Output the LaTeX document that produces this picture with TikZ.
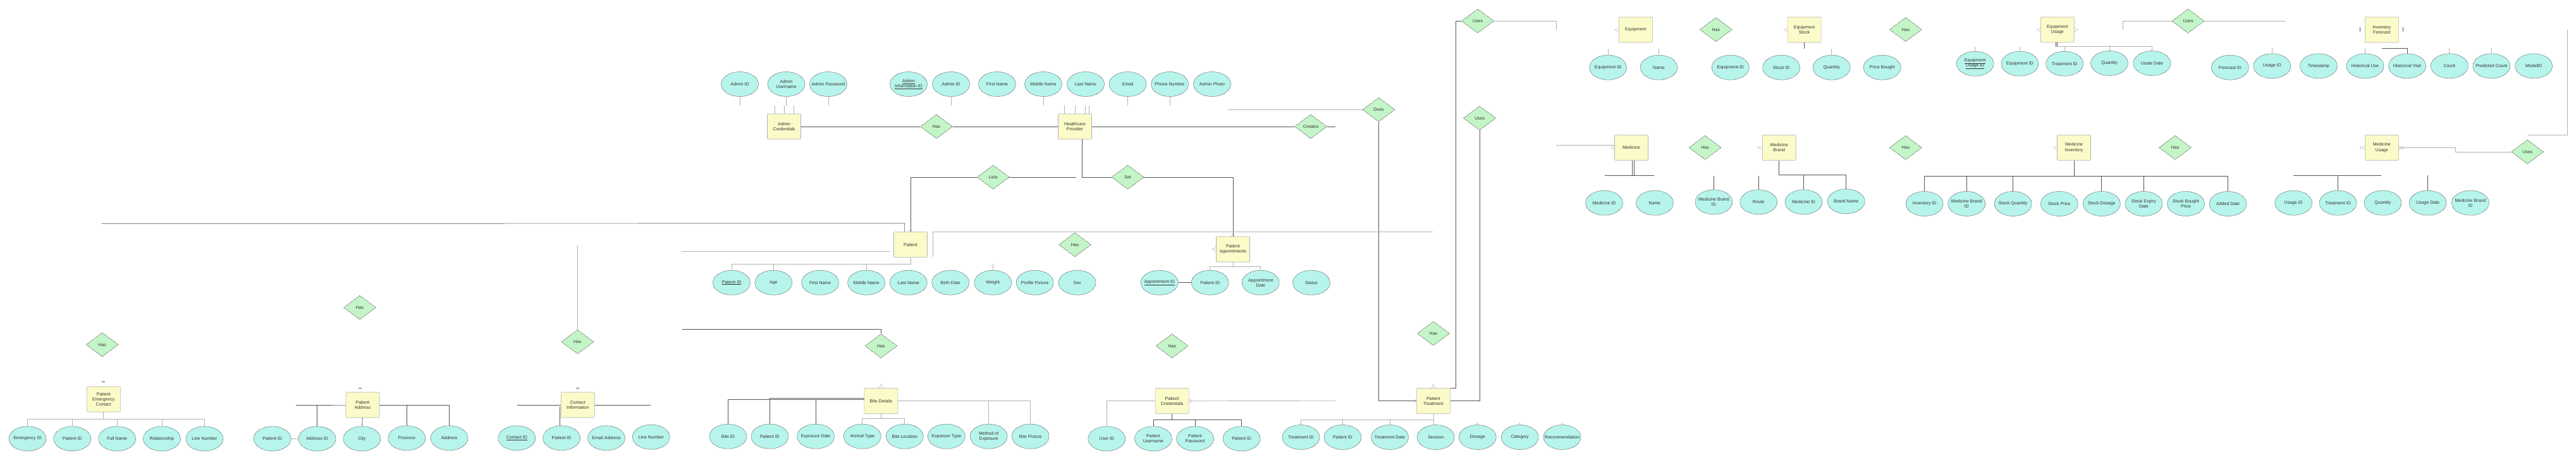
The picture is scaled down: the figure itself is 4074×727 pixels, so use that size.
\documentclass[tikz,border=0pt]{standalone}
\usepackage{fontspec}
\setmainfont{Liberation Sans}
\usetikzlibrary{positioning,shapes.geometric}
\definecolor{entfill}{HTML}{FBFBC9}
\definecolor{attrfill}{HTML}{B7F4EC}
\definecolor{relfill}{HTML}{C4F5C8}
\definecolor{inkgray}{HTML}{333333}

\begin{document}
\begin{tikzpicture}[x=1pt, y=-1pt,
  every node/.style = {font=\fontsize{7}{8.3}\selectfont, text=inkgray, align=center},
  ent/.style  = {rectangle, draw=gray!60, fill=entfill, line width=0.6pt, rounded corners=1pt,
    inner sep=0pt, minimum width=53, minimum height=40},
  attr/.style = {ellipse, draw=gray!40!black, fill=attrfill, line width=0.5pt, dash pattern=on 1.2pt off 0.9pt,
    inner xsep=-7pt, inner ysep=0pt, minimum width=59, minimum height=39},
  rel/.style  = {diamond, draw=gray!40!black, fill=relfill, line width=0.5pt, dash pattern=on 1.2pt off 0.9pt,
    inner sep=0pt, minimum width=51, minimum height=38},
  link/.style  = {draw=gray!65!black, line width=0.7pt},
  faint/.style = {draw=gray!60, line width=0.7pt},
  foot/.style  = {draw=gray!55, line width=0.5pt}]
  \fill[white] (0,0) rectangle (4074,727);

  % admin and healthcare provider
  \node[attr] (AdmID)    at (1170,133)     {Admin ID};
  \node[attr] (AdmUser)  at (1243.5,133)   {Admin\\Username};
  \node[attr] (AdmPass)  at (1310,133)     {Admin Password};
  \node[ent]  (AC)       at (1240,200)     {Admin\\Credentials};
  \node[rel]  (HasAC)    at (1481,200)     {Has};
  \node[attr] (InfoID)   at (1437,133)     {\underline{Admin}\\\underline{Information ID}};
  \node[attr] (InfoAdm)  at (1504,133)     {Admin ID};
  \node[attr] (InfoFN)   at (1577,133)     {First Name};
  \node[attr] (InfoMN)   at (1650,133)     {Middle Name};
  \node[attr] (InfoLN)   at (1717,133)     {Last Name};
  \node[attr] (InfoMail) at (1783.6,133)   {Email};
  \node[attr] (InfoTel)  at (1850,133)     {Phone Number};
  \node[attr] (InfoPic)  at (1917,133)     {Admin Photo};
  \node[ent]  (HP)       at (1700,200)     {Healthcare\\Provider};
  \node[rel]  (Creates)  at (2073,200)     {Creates};
  \node[rel]  (Does)     at (2180.5,173.3) {Does};
  \node[rel]  (Lists)    at (1570.7,280)   {Lists};
  \node[rel]  (Set)      at (1783.6,280)   {Set};

  % patient
  \node[ent]  (Pat)      at (1440,386.7)   {Patient};
  \node[attr] (PatID)    at (1157,446.7)   {\underline{Patient ID}};
  \node[attr] (PatAge)   at (1223.3,446.7) {Age};
  \node[attr] (PatFN)    at (1297.1,446.7) {First Name};
  \node[attr] (PatMN)    at (1370.1,446.7) {Middle Name};
  \node[attr] (PatLN)    at (1436.8,446.7) {Last Name};
  \node[attr] (PatBirth) at (1503.2,446.7) {Birth Date};
  \node[attr] (PatWt)    at (1570.3,446.7) {Weight};
  \node[attr] (PatPic)   at (1636.7,446.7) {Profile Picture};
  \node[attr] (PatSex)   at (1703.6,446.7) {Sex};
  \node[rel]  (HasSex)   at (1700,386.7)   {Has};
  \node[ent]  (PA)       at (1950,394)     {Patient\\Appointments};
  \node[attr] (PAAppID)  at (1833.7,446.7) {\underline{Appointment ID}};
  \node[attr] (PAPat)    at (1913.7,446.7) {Patient ID};
  \node[attr] (PADate)   at (1993.7,446.7) {Appointment\\Date};
  \node[attr] (PAStat)   at (2074,446.7)   {Status};

  % bottom row
  \node[rel]  (HasPEC)   at (161.7,544.7)  {Has};
  \node[ent]  (PEC)      at (163.8,631)    {Patient\\Emergency\\Contact};
  \node[attr] (PECEm)    at (43.5,693.3)   {Emergency ID};
  \node[attr] (PECPat)   at (114.3,693.3)  {Patient ID};
  \node[attr] (PECName)  at (185.2,693.3)  {Full Name};
  \node[attr] (PECRel)   at (256,693.3)    {Relationship};
  \node[attr] (PECLine)  at (323.4,693.3)  {Line Number};

  \node[rel]  (HasPAd)   at (569,486)      {Has};
  \node[ent]  (PAd)      at (573.5,640)    {Patient\\Address};
  \node[attr] (PAdPat)   at (430.7,693.3)  {Patient ID};
  \node[attr] (PAdAddrID) at (501.6,693.3) {Address ID};
  \node[attr] (PAdCity)  at (572.4,693.3)  {City};
  \node[attr] (PAdProv)  at (643.3,692.3)  {Province};
  \node[attr] (PAdAddr)  at (710.6,692.3)  {Address};

  \node[rel]  (HasCI)    at (913.4,540.3)  {Has};
  \node[ent]  (CI)       at (913.7,640)    {Contact\\Information};
  \node[attr] (CIID)     at (817.3,692.3)  {\underline{Contact ID}};
  \node[attr] (CIPat)    at (888.1,692.3)  {Patient ID};
  \node[attr] (CIMail)   at (959,692.3)    {Email Address};
  \node[attr] (CILine)   at (1029.8,690.7) {Line Number};

  \node[rel]  (HasBD)    at (1393.4,546.7) {Has};
  \node[ent]  (BD)       at (1393.4,633.7) {Bite Details};
  \node[attr] (BDBite)   at (1151.4,689.7) {Bite ID};
  \node[attr] (BDPat)    at (1217.4,689.7) {Patient ID};
  \node[attr] (BDDate)   at (1290.1,689.7) {Exposure Date};
  \node[attr] (BDAnimal) at (1363.8,689.7) {Animal Type};
  \node[attr] (BDLoc)    at (1430.8,689.7) {Bite Location};
  \node[attr] (BDType)   at (1496.8,689.7) {Exposure Type};
  \node[attr] (BDMeth)   at (1563.7,689.7) {Method of\\Exposure};
  \node[attr] (BDPic)    at (1629.7,689.7) {Bite Picture};

  \node[rel]  (HasPC)    at (1853.6,546.7) {Has};
  \node[ent]  (PC)       at (1853.6,633.7) {Patient\\Credentials};
  \node[attr] (PCUser)   at (1750.3,693.3) {User ID};
  \node[attr] (PCUname)  at (1823.9,693.3) {Patient\\Username};
  \node[attr] (PCPass)   at (1890,693.3)   {Patient\\Password};
  \node[attr] (PCPat)    at (1963.6,693.3) {Patient ID};

  \node[rel]  (HasPT)    at (2266.9,527)   {Has};
  \node[ent]  (PT)       at (2266.9,633.7) {Patient\\Treatment};
  \node[attr] (PTID)     at (2057.4,691)   {Treatment ID};
  \node[attr] (PTPat)    at (2123.4,691)   {Patient ID};
  \node[attr] (PTDate)   at (2198,691)     {Treatment Date};
  \node[attr] (PTSess)   at (2270.7,691)   {Session};
  \node[attr] (PTDose)   at (2336.7,691)   {Dosage};
  \node[attr] (PTCat)    at (2403.7,691)   {Category};
  \node[attr] (PTRec)    at (2470.6,691)   {Recommendation};

  % equipment
  \node[rel]  (Uses1)    at (2337,33.3)    {Uses};
  \node[rel]  (Uses2)    at (2340,186.7)   {Uses};
  \node[ent]  (Eq)       at (2586.8,47)    {Equipment};
  \node[attr] (EqID)     at (2543.1,106.7) {Equipment ID};
  \node[attr] (EqName)   at (2623.5,106.7) {Name};
  \node[rel]  (HasEq)    at (2713.8,46.7)  {Has};
  \node[ent]  (ES)       at (2853.6,47)    {Equipment\\Stock};
  \node[attr] (ESEq)     at (2736.8,106.7) {Equipment ID};
  \node[attr] (ESID)     at (2817.2,106.7) {Stock ID};
  \node[attr] (ESQty)    at (2896.7,106.7) {Quantity};
  \node[attr] (ESPrice)  at (2976.7,106.7) {Price Bought};
  \node[rel]  (HasES)    at (3013.8,46.7)  {Has};
  \node[ent]  (EU)       at (3253.7,47)    {Equipment\\Usage};
  \node[attr] (EUUsage)  at (3123.6,100.7) {\underline{Equipment}\\\underline{Usage ID}};
  \node[attr] (EUEquip)  at (3194.4,100.7) {Equipment ID};
  \node[attr] (EUTreat)  at (3265.2,100.7) {Treatment ID};
  \node[attr] (EUQty)    at (3336,100)     {Quantity};
  \node[attr] (EUDate)   at (3403.4,100)   {Usale Date};
  \node[rel]  (Uses3)    at (3460.5,33.3)  {Uses};
  \node[ent]  (IF)       at (3766.8,47)    {Inventory\\Forecast};
  \node[attr] (IFID)     at (3526.8,106.7) {Forecast ID};
  \node[attr] (IFUsage)  at (3593.3,104.3) {Usage ID};
  \node[attr] (IFTime)   at (3666.9,104.3) {Timestamp};
  \node[attr] (IFHist)   at (3740.5,104.3) {Historical Use};
  \node[attr] (IFVisit)  at (3807,104.3)   {Historical Visit};
  \node[attr] (IFCount)  at (3873.8,104.3) {Count};
  \node[attr] (IFPred)   at (3940.3,104.3) {Predicted Count};
  \node[attr] (IFModel)  at (4007.1,104.3) {ModelID};

  % medicine
  \node[ent]  (Med)      at (2580,233.3)   {Medicine};
  \node[attr] (MedID)    at (2537,320.7)   {Medicine ID};
  \node[attr] (MedName)  at (2617,320.7)   {Name};
  \node[rel]  (HasMed)   at (2696.6,233.3) {Has};
  \node[ent]  (MB)       at (2813.7,233.3) {Medicine\\Brand};
  \node[attr] (MBID)     at (2710.4,319.3) {Medicine Brand\\ID};
  \node[attr] (MBRoute)  at (2781.2,319.3) {Route};
  \node[attr] (MBMed)    at (2852.5,319.3) {Medicine ID};
  \node[attr] (MBBrand)  at (2919.7,318.3) {Brand Name};
  \node[rel]  (HasMB)    at (3013.8,233.3) {Has};
  \node[ent]  (MI)       at (3280,233.3)   {Medicine\\Inventory};
  \node[attr] (MIID)     at (3043.6,322)   {Inventory ID};
  \node[attr] (MIBrand)  at (3110.2,322)   {Medicine Brand\\ID};
  \node[attr] (MIQty)    at (3183.7,322)   {Stock Quantity};
  \node[attr] (MIPrice)  at (3256.8,322)   {Stock Price};
  \node[attr] (MIDose)   at (3323.8,322)   {Stock Dosage};
  \node[attr] (MIExp)    at (3390.4,322)   {Stock Expiry\\Date};
  \node[attr] (MIBought) at (3457,322)     {Stock Bought\\Price};
  \node[attr] (MIAdded)  at (3523.6,322)   {Added Date};
  \node[rel]  (HasMI)    at (3440,233.3)   {Has};
  \node[ent]  (MU)       at (3766.8,233.3) {Medicine\\Usage};
  \node[attr] (MUUsage)  at (3627.1,320.7) {Usage ID};
  \node[attr] (MUTreat)  at (3697.5,320.7) {Treatment ID};
  \node[attr] (MUQty)    at (3768.4,320.7) {Quantity};
  \node[attr] (MUDate)   at (3839.6,320.7) {Usage Date};
  \node[attr] (MUBrand)  at (3906.9,320.7) {Medicine Brand\\ID};
  \node[rel]  (Uses4)    at (3997.2,240)   {Uses};

  \coordinate (DoesEnd)  at (1941.6,173.3);
  \coordinate (PatFar)   at (161,353.3);
  \coordinate (PatLeftA) at (1406.5,397.3);
  \coordinate (PatLeftB) at (1077.8,397.3);
  \coordinate (PatRight) at (2266,366.7);
  \coordinate (CITop)    at (913.4,388);
  \coordinate (BDFar)    at (1078.7,520);
  \coordinate (PCEnd)    at (2111.9,633.3);
  \coordinate (MedFar)   at (2461,229.3);
  \coordinate (IFRight)  at (4060,47.3);
  \coordinate (UsesTop)  at (3998.4,213.3);

  \draw[faint] (AdmID.south) -- ++(0,14) (AdmUser.south) -- ++(0,14) (AdmPass.south) -- ++(0,14)
    (InfoAdm.south) -- ++(0,14) (InfoMN.south) -- ++(0,14) (InfoMail.south) -- ++(0,14) (InfoTel.south) -- ++(0,14);
  \draw[faint] (AC.north) ++(-14.5,0) -- ++(0,-13) (AC.north) ++(0.8,0) -- ++(0,-13) (AC.north) ++(15.8,0) -- ++(0,-13)
    (HP.north) ++(-16.6,0) -- ++(0,-13) (HP.north) -- ++(0,-13) (HP.north) ++(16.6,0) -- ++(0,-13) (HP.north) ++(22.7,0) -- ++(0,-13);
  \draw[link] (AC) -- (HasAC) -- (HP) -- (Creates);
  \draw[link] (Creates.east) -- ++(13.5,0);
  \draw[faint] (DoesEnd) -- (Does.west);
  \draw[link] (Does.south) |- (PT.west);
  \draw[link] ([xshift=11pt]HP.south) |- (Set.west);
  \draw[link] (Lists.east) -- ++(105.5,0);
  \draw[link] (Lists.west) -| (Pat.north);
  \draw[link] (Set.east) -| (PA.north);
  \draw[link] (Pat.north) ++(-9.4,0) -- ++(0,-13.4) -- (PatFar);
  \draw[faint] (PatLeftA) -- (PatLeftB);
  \draw[faint] (Pat.east) ++(8.3,19) -- ++(0,-39) -- (PatRight);
  \draw[faint] (Pat.south) -- ++(0,10.6) -| (PatID.north);
  \draw[faint] (PatAge.north) -- ++(0,-10) (PatMN.north) -- ++(0,-10) (PatWt.north) -- ++(0,-10);
  \draw[faint] (PA.south) -- ++(0,7) -| (PAPat.north) (PA.south) ++(0,7) -| (PADate.north);
  \draw[link] (PAAppID) -- (PAPat);

  \draw[link] (PEC.north) ++(-3,-7) -- ++(5,0) (PAd.north) ++(-7,-6.7) -- ++(5,0) (CI.north) ++(-3,-6.7) -- ++(5,0);
  \draw[faint] (PEC.south) -- ++(0,11) -| (PECEm.north) (PEC.south) ++(0,11) -| (PECLine.north);
  \draw[faint] (PECPat.north) -- ++(0,-11.5) (PECName.north) -- ++(0,-11.5) (PECRel.north) -- ++(0,-11.5);
  \draw[link] (PAdAddrID.north) |- (PAd.west) -- ++(-79,0);
  \draw[link] (PAdProv.north) |- (PAd.east) (PAdAddr.north) |- (PAd.east);
  \draw[link] (PAd.south) -- (PAdCity.north);
  \draw[faint] (PAdPat) -- (PAdAddrID);
  \draw[faint] (CITop) -- (HasCI.north);
  \draw[link] (CI.west) -- ++(-69.4,0) (CI.east) -- ++(88.4,0);
  \draw[link] (CIPat.north) ++(-2.8,0) -- ++(0,-30);

  \draw[link] (BDFar) -| (HasBD.north);
  \draw[link] (BDBite.north) |- ([yshift=2pt]BD.west);
  \draw[link] (BDPat.north) |- ([yshift=4.4pt]BD.west);
  \draw[link] (BDDate.north) -- ++(0,-38.5);
  \draw[faint] (BD.east) -| (BDPic.north) (BDMeth.north) -- ++(0,-36.9);
  \draw[faint] (BD.south) -- ++(0,7.3) -| (BDAnimal.north) (BD.south) ++(0,7.3) -| (BDLoc.north);
  \draw[faint] (PC.east) -- (PCEnd);
  \draw[faint] (PC.west) -| (PCUser.north);
  \draw[link] (PC.south) -- ++(0,9) -| (PCUname.north) (PC.south) ++(0,9) -| (PCPat.north);
  \draw[link] (PCPass.north) -- ++(0,-11);
  \draw[link] (Uses1.west) -- ++(-9.1,0) |- (PT.north east);
  \draw[link] (Uses2.south) |- (PT.east);
  \draw[faint] (PT.south) -- (PT.south |- PTSess.north);
  \draw[faint] (PT.south) ++(0,9) -| (PTID.north);
  \draw[faint] (PTPat.north) -- ++(0,-9) (PTDate.north) -- ++(0,-9)
    (PTDose.north) -- ++(0,-3) (PTCat.north) -- ++(0,-3) (PTRec.north) -- ++(0,-3);

  \draw[faint] (Uses1.east) -- ++(98.5,0) -- ++(0,13.4);
  \draw[faint] (MedFar) -- (MedFar -| Med.west);
  \draw[faint] (EqID.north) -- ++(0,-10) (EqName.north) -- ++(0,-10) (ESQty.north) -- ++(0,-10);
  \draw[link] (ES.south) -- ++(0,9.3);
  \draw[link] (EU.south) ++(-2.5,0) -- ++(0,7) (EU.south) ++(-0.5,0) -- ++(0,7);
  \draw[faint] (EU.south) ++(-1,6.3) -| (EUDate.north);
  \draw[faint] (EUTreat.north) -- ++(0,-8) (EUQty.north) -- ++(0,-8) (EUUsage.north) -- ++(0,-7) (EUEquip.north) -- ++(0,-7);
  \draw[faint] (Uses3.west) -- ++(-77.5,0) -- ++(0,13.4);
  \draw[faint] (Uses3.east) -- ++(126.4,0) -- ++(0,1.7);
  \draw[link] (IF.west) ++(-7.2,-3.5) -- ++(0,7) (IF.east) ++(7.2,-3.5) -- ++(0,7);
  \draw[link] (IF.south) ++(0,9.3) -| (IFVisit.north);
  \draw[faint] (IFUsage.north) -- ++(0,-8.5) (IFHist.north) -- ++(0,-8.5) (IFCount.north) -- ++(0,-8.5) (IFPred.north) -- ++(0,-8.5);
  \draw[faint] (IFRight) |- (UsesTop);
  \draw[faint] (MU.east) -- ++(89.3,0) |- (Uses4.west);

  \draw[link] (Med.south) ++(1,0) -- ++(0,24) (Med.south) ++(4,0) -- ++(0,24);
  \draw[link] (Med.south) ++(-42.2,24) -- ++(78.4,0);
  \draw[link] (MB.south) -- ++(0,22.7) -| (MBBrand.north);
  \draw[link] (MBMed.north) -- ++(0,-23) (MBID.north) -- ++(0,-22) (MBRoute.north) -- ++(0,-22);
  \draw[link] (MI.south) -- ++(0,25) -| (MIID.north) (MI.south) ++(0,25) -| (MIAdded.north);
  \draw[link] (MIBrand.north) -- ++(0,-24) (MIQty.north) -- ++(0,-24) (MIDose.north) -- ++(0,-24) (MIExp.north) -- ++(0,-24);
  \draw[link] (MUUsage.north) ++(0,-24) -- ++(139,0) (MUTreat.north) -- ++(0,-24) (MUDate.north) -- ++(0,-23.5);

  \draw[foot] ([yshift=3pt]Eq.west) -- ([xshift=-6pt]Eq.west) -- ([yshift=-3pt]Eq.west);
  \draw[foot] ([yshift=3pt]ES.west) -- ([xshift=-6pt]ES.west) -- ([yshift=-3pt]ES.west);
  \draw[foot] ([yshift=3pt]EU.west) -- ([xshift=-6pt]EU.west) -- ([yshift=-3pt]EU.west);
  \draw[foot] ([yshift=3pt]EU.east) -- ([xshift=6pt]EU.east) -- ([yshift=-3pt]EU.east);
  \draw[foot] ([yshift=3pt]Med.west) -- ([xshift=-6pt]Med.west) -- ([yshift=-3pt]Med.west);
  \draw[foot] ([yshift=3pt]MB.west) -- ([xshift=-6pt]MB.west) -- ([yshift=-3pt]MB.west)
    ([xshift=-7pt,yshift=3.5pt]MB.west) -- ([xshift=-7pt,yshift=-3.5pt]MB.west);
  \draw[foot] ([yshift=3pt]MI.west) -- ([xshift=-6pt]MI.west) -- ([yshift=-3pt]MI.west);
  \draw[foot] ([yshift=3pt]MU.west) -- ([xshift=-6pt]MU.west) -- ([yshift=-3pt]MU.west)
    ([xshift=-7pt,yshift=3.5pt]MU.west) -- ([xshift=-7pt,yshift=-3.5pt]MU.west);
  \draw[foot] ([yshift=3pt]MU.east) -- ([xshift=6pt]MU.east) -- ([yshift=-3pt]MU.east)
    ([xshift=7pt,yshift=3.5pt]MU.east) -- ([xshift=7pt,yshift=-3.5pt]MU.east);
  \draw[foot] ([xshift=-3pt]Pat.north) -- ([yshift=6pt]Pat.north) -- ([xshift=3pt]Pat.north);
  \draw[foot] ([xshift=-3pt]PA.north) -- ([yshift=6pt]PA.north) -- ([xshift=3pt]PA.north);
  \draw[foot] ([yshift=3pt]PA.west) -- ([xshift=-6pt]PA.west) -- ([yshift=-3pt]PA.west);
  \draw[foot] ([xshift=-3pt]BD.north) -- ([yshift=6pt]BD.north) -- ([xshift=3pt]BD.north);
  \draw[foot] ([yshift=3pt]PC.east) -- ([xshift=6pt]PC.east) -- ([yshift=-3pt]PC.east);
  \draw[foot] ([xshift=-3pt]PT.north) -- ([yshift=6pt]PT.north) -- ([xshift=3pt]PT.north);
  \draw[foot] ([yshift=3pt]PT.west) -- ([xshift=-6pt]PT.west) -- ([yshift=-3pt]PT.west);
\end{tikzpicture}
\end{document}
